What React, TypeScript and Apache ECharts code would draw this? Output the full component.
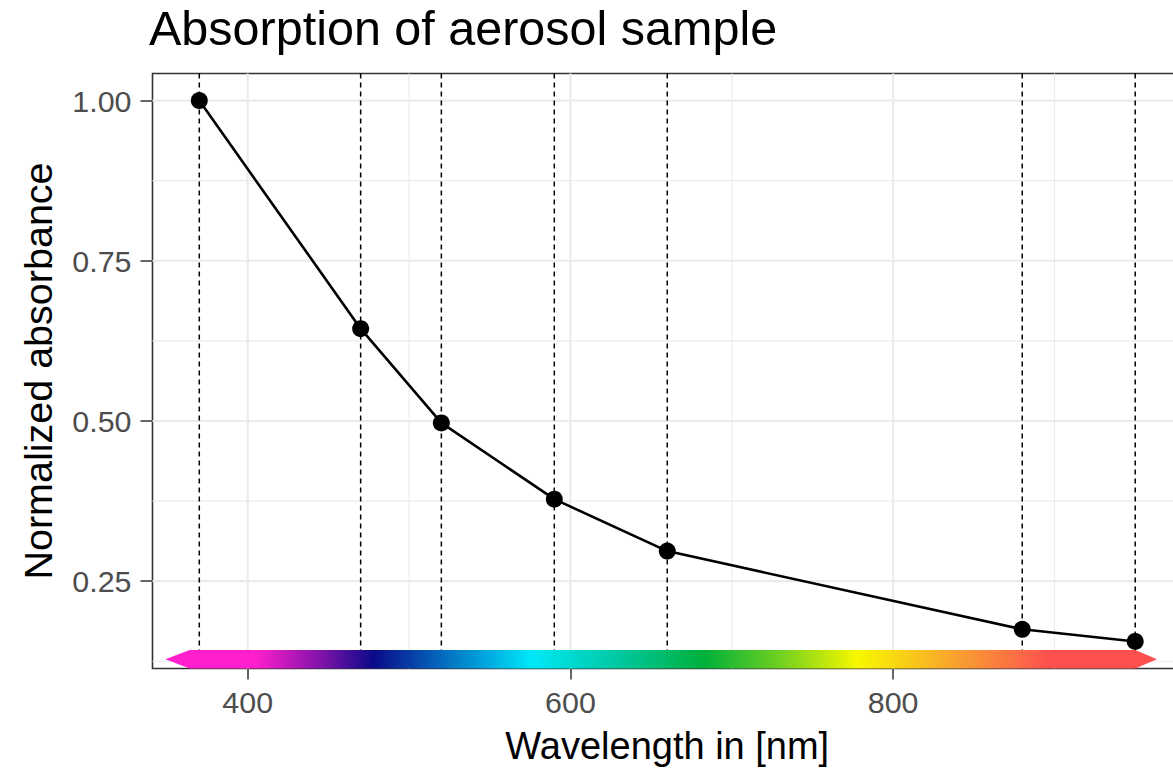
import React, { useEffect, useRef } from "react";
import * as echarts from "echarts";

// ---- data ----
const wavelengths = [370, 470, 520, 590, 660, 880, 950];
const absorbance = [1.0, 0.644, 0.497, 0.378, 0.297, 0.175, 0.156];
const xTickValues = [400, 600, 800];
const xMajorGrid = [400, 600, 800];
const xMinorGrid = [500, 700, 900];
const yTickValues = [0.25, 0.5, 0.75, 1.0];
const yMinorGrid = [0.125, 0.375, 0.625, 0.875];
// spectrum colour bar: wavelength -> colour
const spectrumWl = [349, 405, 447, 478, 548, 576, 630, 683, 730, 778, 840, 897, 963.5];
const spectrumColors = [
  "#ff1fcc", "#ff1fcc", "#7a12a8", "#0a0a88", "#00a8e0", "#00e8f8",
  "#00c8a0", "#00b03a", "#70d020", "#f8f800", "#f8a030", "#ff5050", "#ff5050",
];
const colorBarBody = [364, 950];
const colorBarTips = [349, 963.5];
const colorBarTop = 0.1427;

const FONT = "'Liberation Sans', Arial, sans-serif";

export default function App() {
  const ref = useRef<HTMLDivElement>(null);
  useEffect(() => {
    if (!ref.current) return;
    const chart = echarts.init(ref.current, undefined, { renderer: "svg" });

    const xr = [Math.min(...wavelengths), Math.max(...wavelengths)];
    const yr = [Math.min(...absorbance), Math.max(...absorbance)];
    const xMin = xr[0] - 0.05 * (xr[1] - xr[0]);
    const xMax = xr[1] + 0.05 * (xr[1] - xr[0]);
    const yMin = yr[0] - 0.05 * (yr[1] - yr[0]);
    const yMax = yr[1] + 0.05 * (yr[1] - yr[0]);

    const vLines = (values: number[], style: any, z: number) => ({
      type: "custom",
      coordinateSystem: "cartesian2d",
      silent: true,
      z,
      data: values.map((v) => [v, yMin]),
      renderItem: (params: any, api: any) => {
        const cs = params.coordSys;
        const x = api.coord([api.value(0), api.value(1)])[0];
        return {
          type: "line",
          shape: { x1: x, y1: cs.y, x2: x, y2: cs.y + cs.height },
          style,
        };
      },
    });
    const hLines = (values: number[], style: any, z: number) => ({
      type: "custom",
      coordinateSystem: "cartesian2d",
      silent: true,
      z,
      data: values.map((v) => [xMin, v]),
      renderItem: (params: any, api: any) => {
        const cs = params.coordSys;
        const y = api.coord([api.value(0), api.value(1)])[1];
        return {
          type: "line",
          shape: { x1: cs.x, y1: y, x2: cs.x + cs.width, y2: y },
          style,
        };
      },
    });

    const majorStyle = { stroke: "#ebebeb", lineWidth: 2.2 };
    const minorStyle = { stroke: "#ebebeb", lineWidth: 1.1 };

    const colorBar = {
      type: "custom",
      coordinateSystem: "cartesian2d",
      silent: true,
      z: 4,
      data: [[colorBarBody[0], colorBarBody[1], colorBarTips[0], colorBarTips[1]]],
      renderItem: (params: any, api: any) => {
        const b0 = api.value(0), b1 = api.value(1), t0 = api.value(2), t1 = api.value(3);
        const pTop = api.coord([b0, colorBarTop])[1];
        const pBot = api.coord([b0, yMin])[1];
        const pMid = (pTop + pBot) / 2;
        const xb0 = api.coord([b0, yMin])[0];
        const xb1 = api.coord([b1, yMin])[0];
        const xt0 = api.coord([t0, yMin])[0];
        const xt1 = api.coord([t1, yMin])[0];
        const span = t1 - t0;
        const stops = spectrumWl.map((w, i) => ({
          offset: Math.max(0, Math.min(1, (w - t0) / span)),
          color: spectrumColors[i],
        }));
        return {
          type: "polygon",
          shape: {
            points: [
              [xt0, pMid], [xb0, pTop], [xb1, pTop], [xt1, pMid], [xb1, pBot], [xb0, pBot],
            ],
          },
          style: {
            fill: new echarts.graphic.LinearGradient(xt0, 0, xt1, 0, stops, true),
          },
        };
      },
    };

    const option: any = {
      animation: false,
      backgroundColor: "#ffffff",
      title: {
        text: "Absorption of aerosol sample",
        left: 149,
        top: 3,
        padding: 0,
        textStyle: { fontSize: 48.5, fontWeight: "normal", color: "#000000", fontFamily: FONT },
      },
      grid: {
        left: 152.5,
        top: 73.5,
        width: 1029.5,
        height: 595,
        show: true,
        borderColor: "#333333",
        borderWidth: 1.6,
        backgroundColor: "transparent",
        containLabel: false,
        outerBoundsMode: "none",
      },
      xAxis: {
        type: "value",
        min: xMin,
        max: xMax,
        name: "Wavelength in [nm]",
        nameLocation: "middle",
        nameGap: 58,
        nameTextStyle: { fontSize: 38, color: "#000000", fontFamily: FONT },
        axisLine: { show: false },
        axisTick: { show: true, length: 11, customValues: xTickValues, lineStyle: { color: "#333333", width: 1.5 } },
        axisLabel: {
          customValues: xTickValues,
          margin: 18,
          fontSize: 30.4,
          color: "#4d4d4d",
          fontFamily: FONT,
          formatter: (v: number) => String(v),
        },
        splitLine: { show: false },
      },
      yAxis: {
        type: "value",
        min: yMin,
        max: yMax,
        name: "Normalized absorbance",
        nameLocation: "middle",
        nameRotate: 90,
        nameGap: 95,
        nameTextStyle: { fontSize: 39.5, color: "#000000", fontFamily: FONT },
        axisLine: { show: false },
        axisTick: { show: true, length: 12, customValues: yTickValues, lineStyle: { color: "#333333", width: 1.5 } },
        axisLabel: {
          customValues: yTickValues,
          margin: 21,
          fontSize: 30.4,
          color: "#4d4d4d",
          fontFamily: FONT,
          formatter: (v: number) => v.toFixed(2),
        },
        splitLine: { show: false },
      },
      series: [
        vLines(xMinorGrid, minorStyle, 1),
        hLines(yMinorGrid, minorStyle, 1),
        vLines(xMajorGrid, majorStyle, 1),
        hLines(yTickValues, majorStyle, 1),
        vLines(wavelengths, { stroke: "#000000", lineWidth: 1.5, lineDash: [5, 4] }, 3),
        colorBar,
        {
          type: "line",
          data: wavelengths.map((w, i) => [w, absorbance[i]]),
          symbol: "circle",
          symbolSize: 17,
          itemStyle: { color: "#000000" },
          lineStyle: { color: "#000000", width: 2.6 },
          z: 10,
          silent: true,
        },
      ],
    };
    chart.setOption(option);
    return () => chart.dispose();
  }, []);
  return (
    <div
      ref={ref}
      style={{ position: "absolute", left: 0, top: 0, width: 1173, height: 771 }}
    />
  );
}
